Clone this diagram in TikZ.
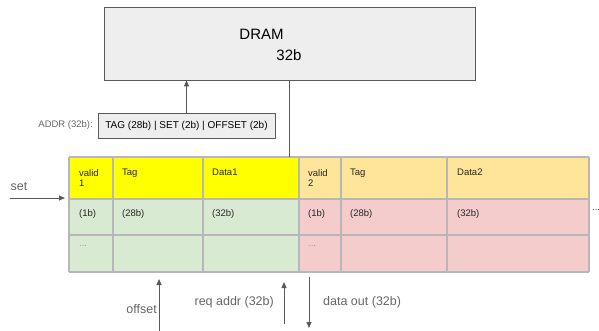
\documentclass[tikz,border=0pt]{standalone}
\usepackage{fontspec}
\setmainfont{Liberation Sans}
\usetikzlibrary{arrows.meta,calc}
\definecolor{boxgray}{HTML}{EEEEEE}
\definecolor{edgegray}{HTML}{595959}
\definecolor{gridgray}{HTML}{B7B7B7}
\definecolor{labelgray}{HTML}{666666}
\definecolor{dotgray}{HTML}{999999}
\definecolor{validyel}{HTML}{FFFF00}
\definecolor{validorg}{HTML}{FFE599}
\definecolor{waygreen}{HTML}{D9EAD3}
\definecolor{waypink}{HTML}{F4CCCC}
\tikzset{
  membox/.style={draw=edgegray, line width=0.8pt, fill=boxgray, inner sep=0pt},
  cellline/.style={draw=gridgray, line width=1.1pt},
  wire/.style={draw=edgegray, line width=0.8pt},
  signal/.style={draw=edgegray, line width=0.8pt, -{Triangle[length=6pt,width=5pt]}},
  celltext/.style={font=\fontsize{9.5}{10.5}\selectfont, text=black!85, anchor=north west,
    inner sep=0pt, align=left},
  sidelabel/.style={font=\fontsize{12.5}{14}\selectfont, text=labelgray, inner sep=0pt}
}

\begin{document}
\begin{tikzpicture}[x=1pt,y=-1pt]
  \useasboundingbox (0,0) rectangle (599,331);

  % Main memory and the address word.
  \node[membox, minimum width=371pt, minimum height=73pt] (dram) at (289.5,43.5) {};
  \node[font=\fontsize{15}{17}\selectfont, anchor=base] (dramname) at (261.5,40) {DRAM};
  \node[font=\fontsize{15}{17}\selectfont, anchor=base] (dramwidth) at (289,61) {32b};
  \node[membox, minimum width=177pt, minimum height=25pt,
        font=\fontsize{10}{12}\selectfont] (addr) at (186.5,125.5)
        {TAG (28b) | SET (2b) | OFFSET (2b)};
  \node[font=\fontsize{9.5}{11}\selectfont, text=labelgray, anchor=east, inner sep=0pt]
        (addrlabel) at (93,125) {ADDR (32b):};
  \draw[signal] (addr.north) -- (addr.north |- dram.south);

  % Two-way set: valid bits, tags and data.
  \fill[validyel] (69,157) rectangle (299,199);
  \fill[validorg] (299,157) rectangle (589,199);
  \fill[waygreen] (69,199) rectangle (299,272);
  \fill[waypink] (299,199) rectangle (589,272);
  \foreach \y in {157,199,235,272} {
    \draw[cellline] (69,\y) -- (589,\y);
  }
  \foreach \x in {69,113,203,299,341,447,589} {
    \draw[cellline] (\x,157) -- (\x,272);
  }
  \coordinate (tabletop) at (289,157);
  \draw[wire] (dram.south -| tabletop) -- (tabletop);

  % Cell texts.
  \node[celltext] (valida) at (79,169) {valid\\1};
  \node[celltext] (taga) at (122,169) {Tag};
  \node[celltext] (dataa) at (212,169) {Data1};
  \node[celltext] (validb) at (308,169) {valid\\2};
  \node[celltext] (tagb) at (350,169) {Tag};
  \node[celltext] (datab) at (457,169) {Data2};
  \node[celltext] (vbitsa) at (79,209) {(1b)};
  \node[celltext] (tbitsa) at (122,209) {(28b)};
  \node[celltext] (dbitsa) at (212,209) {(32b)};
  \node[celltext] (vbitsb) at (308,209) {(1b)};
  \node[celltext] (tbitsb) at (350,209) {(28b)};
  \node[celltext] (dbitsb) at (457,209) {(32b)};
  \node[celltext, text=dotgray] (morea) at (79,245) {...};
  \node[celltext, text=dotgray] (moreb) at (308,245) {...};
  \node[celltext] (moreways) at (592,209) {...};

  % Set index in, offset and request address in, data out.
  \node[sidelabel, anchor=base] (setlabel) at (19,190) {set};
  \coordinate (setin) at (10,198);
  \draw[signal, shorten >=4pt] (setin) -- (setin -| 69,0);
  \coordinate (offsetin) at (159,331);
  \coordinate (offsetend) at (159,279);
  \draw[signal] (offsetin) -- (offsetend);
  \node[sidelabel, anchor=base east] (offsetlabel) at (157,313) {offset};
  \coordinate (reqin) at (284,324);
  \coordinate (reqend) at (284,282);
  \draw[signal] (reqin) -- (reqend);
  \node[sidelabel, anchor=base east] (reqlabel) at (274,305) {req addr (32b)};
  \coordinate (dataoutstart) at (309,277);
  \coordinate (dataoutend) at (309,328);
  \draw[signal] (dataoutstart) -- (dataoutend);
  \node[sidelabel, anchor=base west] (dataoutlabel) at (323,305) {data out (32b)};
\end{tikzpicture}
\end{document}
